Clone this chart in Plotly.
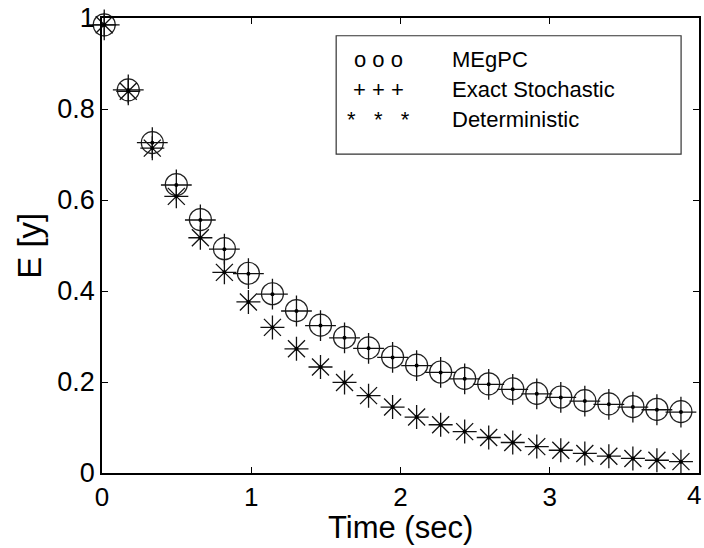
import plotly.graph_objects as go

# Time samples (sec)
time = [0.015, 0.176, 0.337, 0.498, 0.659, 0.820, 0.981, 1.142, 1.303, 1.464,
        1.625, 1.786, 1.947, 2.108, 2.269, 2.430, 2.591, 2.752, 2.913, 3.074,
        3.235, 3.396, 3.557, 3.718, 3.879]

# MEgPC mean (circles)
megpc = [0.985, 0.842, 0.726, 0.634, 0.557, 0.493, 0.439, 0.394, 0.357, 0.325,
         0.298, 0.275, 0.255, 0.237, 0.222, 0.208, 0.196, 0.185, 0.175, 0.167,
         0.159, 0.152, 0.146, 0.140, 0.135]

# Exact stochastic mean (plus)
exact = [0.985, 0.842, 0.726, 0.633, 0.556, 0.492, 0.438, 0.393, 0.356, 0.324,
         0.297, 0.274, 0.254, 0.236, 0.221, 0.207, 0.195, 0.184, 0.174, 0.166,
         0.158, 0.151, 0.145, 0.139, 0.134]

# Deterministic (asterisk)
determ = [0.985, 0.839, 0.714, 0.608, 0.517, 0.441, 0.376, 0.320, 0.273, 0.233,
          0.199, 0.170, 0.145, 0.123, 0.106, 0.091, 0.078, 0.067, 0.058, 0.050,
          0.043, 0.037, 0.032, 0.028, 0.025]

x_ticks = [0, 1, 2, 3, 4]
x_tick_labels = ["0", "1", "2", "3", ""]
y_ticks = [0, 0.2, 0.4, 0.6, 0.8, 1]
y_tick_labels = ["0", "0.2", "0.4", "0.6", "0.8", "1"]

legend_symbols = ["o o o", "+ + +", "*   *   *"]
legend_labels = ["MEgPC", "Exact Stochastic", "Deterministic"]

FONT = "Liberation Sans, Arial, Helvetica, sans-serif"

fig = go.Figure()

fig.add_trace(go.Scatter(
    x=time, y=megpc, mode="markers", name="MEgPC", cliponaxis=False,
    marker=dict(symbol="circle-open", size=22, color="#222",
                line=dict(width=1.2, color="#222"))))
fig.add_trace(go.Scatter(
    x=time, y=exact, mode="markers", name="Exact Stochastic", cliponaxis=False,
    marker=dict(symbol="cross-thin-open", size=22, color="#111",
                line=dict(width=1.3, color="#111"))))
fig.add_trace(go.Scatter(
    x=time, y=determ, mode="markers", name="Deterministic", cliponaxis=False,
    marker=dict(symbol="asterisk-open", size=20, color="#111",
                line=dict(width=1.3, color="#111"))))
# center dots
fig.add_trace(go.Scatter(
    x=time + time, y=exact + determ, mode="markers", showlegend=False,
    cliponaxis=False, marker=dict(symbol="circle", size=4, color="black")))

# Legend box
fig.add_shape(type="rect", xref="x", yref="y", x0=1.569, x1=3.88, y0=0.701, y1=0.961,
              line=dict(color="#333", width=1.2), fillcolor="white", layer="below")
rows_y = [0.908, 0.843, 0.777]
for sym, lab, yy in zip(legend_symbols, legend_labels, rows_y):
    fig.add_annotation(x=1.85, y=yy, xref="x", yref="y", text=sym, showarrow=False,
                       xanchor="center", yanchor="middle", borderpad=0,
                       font=dict(family=FONT, size=22, color="black"))
    fig.add_annotation(x=2.337, y=yy, xref="x", yref="y", text=lab, showarrow=False,
                       xanchor="left", yanchor="middle", borderpad=0,
                       font=dict(family=FONT, size=22, color="black"))

# last x tick label (sits at the figure's right edge)
fig.add_annotation(x=1, y=-22 / 458, xref="paper", yref="y domain", text="4",
                   showarrow=False, xanchor="right", yanchor="middle",
                   xshift=3, borderpad=0,
                   font=dict(family=FONT, size=26, color="black"))

# Axis titles
fig.add_annotation(x=-73 / 599, y=0.5, xref="x domain", yref="y domain", text="E [y]",
                   showarrow=False, textangle=-90, xanchor="center", yanchor="middle",
                   font=dict(family=FONT, size=33, color="black"))
fig.add_annotation(x=0.5, y=-55 / 458, xref="x domain", yref="y domain", text="Time (sec)",
                   showarrow=False, xanchor="center", yanchor="middle",
                   font=dict(family=FONT, size=31, color="black"))

fig.update_layout(
    width=704, height=548,
    margin=dict(l=102, r=3, t=15, b=75),
    plot_bgcolor="white", paper_bgcolor="white",
    showlegend=False,
    font=dict(family=FONT, color="black"),
)
fig.update_xaxes(range=[0, 4], tickvals=x_ticks, ticktext=x_tick_labels,
                 ticks="inside", ticklen=6, tickwidth=1, tickcolor="black",
                 showline=True, linecolor="black", linewidth=1.5, mirror="ticks",
                 showgrid=False, zeroline=False, ticklabelstandoff=0,
                 tickfont=dict(family=FONT, size=26, color="black"))
fig.update_yaxes(range=[0, 1], tickvals=y_ticks, ticktext=y_tick_labels,
                 ticks="inside", ticklen=6, tickwidth=1, tickcolor="black",
                 showline=True, linecolor="black", linewidth=1.5, mirror="ticks",
                 showgrid=False, zeroline=False, ticklabelstandoff=0,
                 tickfont=dict(family=FONT, size=27, color="black"))

fig.write_html("out.html")
